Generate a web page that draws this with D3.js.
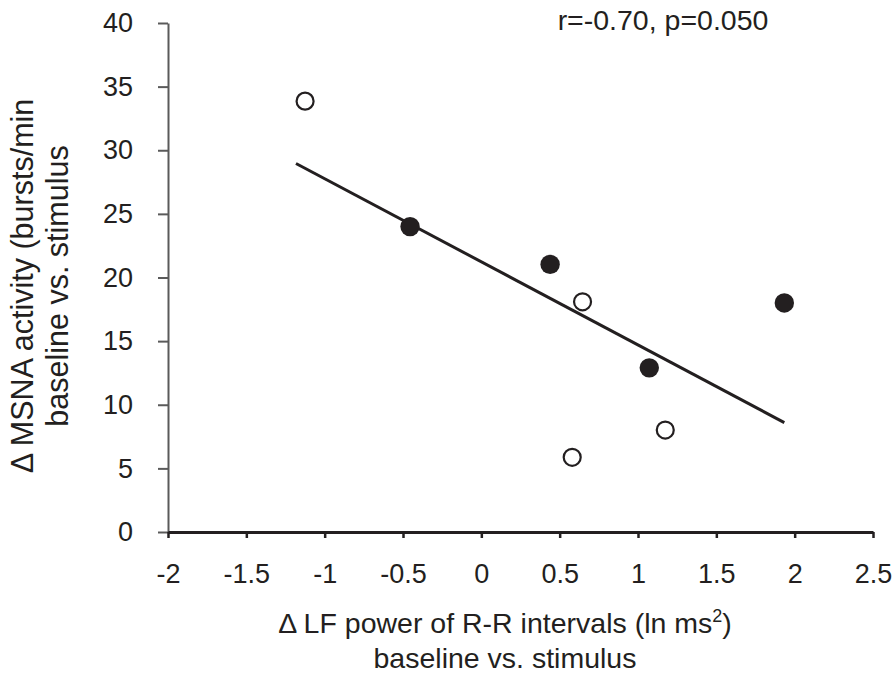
<!DOCTYPE html>
<html>
<head>
<meta charset="utf-8">
<script src="https://cdn.jsdelivr.net/npm/d3@7"></script>
<style>
  body { margin: 0; background: #fff; }
  text { font-family: "Liberation Sans", Arial, sans-serif; fill: #231f20; }
</style>
</head>
<body>
<svg id="chart" width="892" height="675"></svg>
<script>
// Data
const xValues = [-1.125, -0.455, 0.439, 0.646, 1.072, 1.174, 0.580, 1.934];
const yValues = [33.86, 24.0, 21.03, 18.09, 12.9, 8.01, 5.87, 18.0];
const filled  = [false, true, true, false, true, false, false, true];
const trendX = [-1.183, 1.934];
const trendY = [28.96, 8.6];
const xTicks = [-2, -1.5, -1, -0.5, 0, 0.5, 1, 1.5, 2, 2.5];
const yTicks = [0, 5, 10, 15, 20, 25, 30, 35, 40];
const annotation = "r=-0.70, p=0.050";
const xTitle1 = "Δ LF power of R-R intervals (ln ms";
const xTitleSup = "2";
const xTitle2 = "baseline vs. stimulus";
const yTitle1 = "Δ MSNA activity (bursts/min";
const yTitle2 = "baseline vs. stimulus";

const W = 892, H = 675;
const margin = {left: 168, right: 19, top: 23, bottom: 143};
const svg = d3.select("#chart");

const x = d3.scaleLinear().domain([-2, 2.5]).range([margin.left, W - margin.right]);
const y = d3.scaleLinear().domain([0, 40]).range([H - margin.bottom, margin.top]);

const ink = "#231f20";

// Y axis
const yAxis = svg.append("g")
  .attr("transform", `translate(${margin.left},0)`)
  .call(d3.axisLeft(y).tickValues(yTicks).tickFormat(d3.format("d"))
        .tickSize(10).tickSizeOuter(0).tickPadding(25));
yAxis.select(".domain").attr("stroke", "#5a5a5a").attr("stroke-width", 2);
yAxis.selectAll(".tick line").attr("stroke", "#5a5a5a").attr("stroke-width", 2);
yAxis.selectAll(".tick text").attr("font-size", 27).attr("fill", ink)
  .attr("font-family", "Liberation Sans, Arial, sans-serif");

// X axis
const xAxis = svg.append("g")
  .attr("transform", `translate(0,${y(0)})`)
  .call(d3.axisBottom(x).tickValues(xTicks).tickFormat(d => String(d))
        .tickSize(6).tickSizeOuter(0).tickPadding(26));
xAxis.select(".domain").attr("stroke", ink).attr("stroke-width", 3);
xAxis.selectAll(".tick line").attr("stroke", ink).attr("stroke-width", 2.5);
xAxis.selectAll(".tick text").attr("font-size", 27).attr("fill", ink)
  .attr("font-family", "Liberation Sans, Arial, sans-serif");

// Trend line
svg.append("line")
  .attr("x1", x(trendX[0])).attr("y1", y(trendY[0]))
  .attr("x2", x(trendX[1])).attr("y2", y(trendY[1]))
  .attr("stroke", ink).attr("stroke-width", 3);

// Points
const pts = xValues.map((v, i) => ({x: v, y: yValues[i], f: filled[i]}));
svg.append("g").selectAll("circle").data(pts).join("circle")
  .attr("cx", d => x(d.x)).attr("cy", d => y(d.y))
  .attr("r", d => d.f ? 9.7 : 8.5)
  .attr("fill", d => d.f ? ink : "#fff")
  .attr("stroke", ink)
  .attr("stroke-width", d => d.f ? 0 : 2.2);

// Annotation
svg.append("text").attr("x", 663).attr("y", 30)
  .attr("text-anchor", "middle").attr("font-size", 28.5).text(annotation);

// X title
const xt = svg.append("text").attr("x", 505).attr("y", 633)
  .attr("text-anchor", "middle").attr("font-size", 28.5);
xt.append("tspan").text(xTitle1);
xt.append("tspan").attr("font-size", 18).attr("dy", -11).text(xTitleSup);
xt.append("tspan").attr("dy", 11).text(")");
svg.append("text").attr("x", 505).attr("y", 668)
  .attr("text-anchor", "middle").attr("font-size", 28.5).text(xTitle2);

// Y title
svg.append("text").attr("transform", `translate(33,286) rotate(-90)`)
  .attr("text-anchor", "middle").attr("font-size", 30.5).text(yTitle1);
svg.append("text").attr("transform", `translate(68,286) rotate(-90)`)
  .attr("text-anchor", "middle").attr("font-size", 30.5).text(yTitle2);
</script>
</body>
</html>
